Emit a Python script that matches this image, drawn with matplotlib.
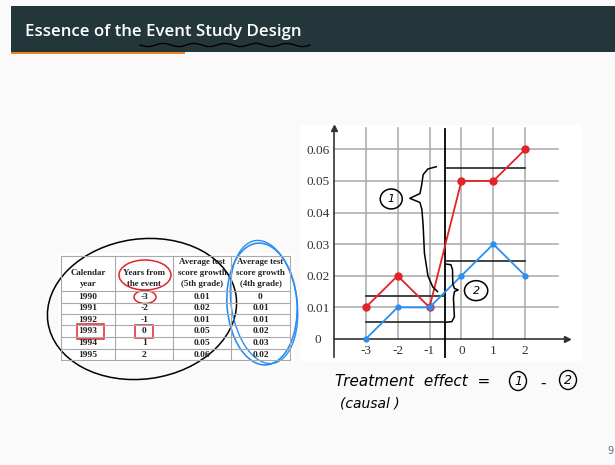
import numpy as np
import matplotlib.pyplot as plt
from matplotlib.patches import Ellipse, Rectangle

# table / chart data
years = [1990, 1991, 1992, 1993, 1994, 1995]
rel_years = [-3, -2, -1, 0, 1, 2]
g5 = [0.01, 0.02, 0.01, 0.05, 0.05, 0.06]   # 5th grade (treated)
g4 = [0.0, 0.01, 0.01, 0.02, 0.03, 0.02]    # 4th grade (control)
headers = [['Calendar', 'year'],
           ['Years from', 'the event'],
           ['Average test', 'score growth', '(5th grade)'],
           ['Average test', 'score growth', '(4th grade)']]
yticks = [0, 0.01, 0.02, 0.03, 0.04, 0.05, 0.06]
ytick_labels = ['0', '0.01', '0.02', '0.03', '0.04', '0.05', '0.06']

# levels of the hand drawn guide lines
event_x = -0.52
pre_hi, pre_lo = 0.0137, 0.0053
post_hi, post_lo = 0.0542, 0.0247

RED = '#e3222a'
BLUE = '#2b8ef2'
SERIF = ['Liberation Serif', 'DejaVu Serif']


def fmt(v):
    return '0' if v == 0 else f'{v:.2f}'


fig = plt.figure(figsize=(6.15, 4.65), dpi=100)
fig.patch.set_facecolor('#fafafa')

# background axes in pixel coordinates
bg = fig.add_axes([0, 0, 1, 1])
bg.set_xlim(0, 615)
bg.set_ylim(465, 0)
bg.axis('off')

# title bar
bg.add_patch(Rectangle((11, 6), 604, 46.5, color='#23373b', lw=0))
bg.plot([11, 185], [52.6, 52.6], color='#eb811b', lw=1.4, solid_capstyle='butt')
bg.text(25, 36.5, 'Essence of the Event Study Design', color='white',
        fontsize=12.2, family='Open Sans', fontweight='semibold', va='baseline')
wx = np.linspace(140, 310, 300)
bg.plot(wx, 45 + 1.6 * np.sin((wx - 140) / 170 * 2 * np.pi * 5.5), color='black', lw=1.0)

# table
cols = [60.7, 115.3, 173.3, 231, 290]
rows = [255.7, 291, 302.7, 314, 325.3, 337, 348.7, 360.3]
bg.add_patch(Rectangle((58, 253), 236, 110, color='white', lw=0))
for c in cols:
    bg.plot([c, c], [rows[0], rows[-1]], color='#a9a9a9', lw=0.8)
for r in rows:
    bg.plot([cols[0], cols[-1]], [r, r], color='#a9a9a9', lw=0.8)
line_y = [262, 273, 284]
for j, h in enumerate(headers):
    xc = (cols[j] + cols[j + 1]) / 2
    for k, txt in enumerate(h):
        bg.text(xc, line_y[3 - len(h) + k], txt, ha='center', va='center',
                family=SERIF, fontsize=6.4, fontweight='bold', color='#222222')
for i in range(len(years)):
    yc = (rows[i + 1] + rows[i + 2]) / 2
    vals = [str(years[i]), str(rel_years[i]), fmt(g5[i]), fmt(g4[i])]
    for j, v in enumerate(vals):
        xc = (cols[j] + cols[j + 1]) / 2
        bg.text(xc, yc, v, ha='center', va='center', family=SERIF,
                fontsize=6.8, fontweight='bold', color='#222222')

# hand drawn marks on the table
bg.add_patch(Ellipse((142, 309), 190, 140, angle=-8, fill=False, ec='black', lw=1.1))
bg.add_patch(Ellipse((262, 304), 70, 122, angle=-4, fill=False, ec=BLUE, lw=1.2))
bg.add_patch(Ellipse((264, 302), 66, 124, angle=-8, fill=False, ec=BLUE, lw=1.0))
bg.add_patch(Ellipse((145, 275), 52, 30, fill=False, ec=RED, lw=1.1))
bg.add_patch(Ellipse((145, 297), 22, 13, fill=False, ec=RED, lw=1.1))
bg.add_patch(Rectangle((77, 324), 27, 15, fill=False, ec=RED, lw=1.1))
bg.add_patch(Rectangle((135, 325), 18, 13, fill=False, ec=RED, lw=1.1))

# chart
ax = fig.add_axes([300 / 615, (465 - 361) / 465, 282 / 615, 236 / 465])
ax.set_facecolor('white')
ax.set_xlim(-5.06, 3.78)
ax.set_ylim(-0.00696, 0.0677)
for s in ['top', 'right']:
    ax.spines[s].set_visible(False)
ax.spines['left'].set_position(('data', -4))
ax.spines['left'].set_bounds(-0.0057, 0.066)
ax.spines['bottom'].set_position(('data', 0))
ax.spines['bottom'].set_bounds(-4, 3.3)
for s in ['left', 'bottom']:
    ax.spines[s].set_color('#333333')
    ax.spines[s].set_linewidth(1.2)
ax.set_xticks(rel_years)
ax.set_xticklabels([str(v) for v in rel_years])
ax.set_yticks(yticks)
ax.set_yticklabels(ytick_labels)
ax.tick_params(axis='both', length=0, labelsize=9.5, labelcolor='#333333')
ax.tick_params(axis='y', pad=11.5)
ax.tick_params(axis='x', pad=4)
for lab in ax.get_yticklabels():
    lab.set_horizontalalignment('center')
for lab in ax.get_xticklabels() + ax.get_yticklabels():
    lab.set_family(SERIF)
ax.plot(-4, 0.0668, marker='^', color='#333333', ms=4, clip_on=False)
ax.plot(3.3, 0, marker='>', color='#333333', ms=4, clip_on=False)

# grid
for x in rel_years:
    ax.plot([x, x], [0, 0.0668], color='#a8a8a8', lw=1.1, zorder=1)
for y in yticks[1:]:
    ax.plot([-4, 3.03], [y, y], color='#a8a8a8', lw=1.1, zorder=1)

# series
ax.plot(rel_years, g5, color=RED, lw=1.3, marker='o', ms=5, zorder=4)
ax.plot(rel_years, g4, color=BLUE, lw=1.3, marker='o', ms=3.5, zorder=4)

# guide lines
ax.plot([event_x, event_x], [-0.0057, 0.0665], color='black', lw=1.3, zorder=3)
ax.plot([event_x, 2], [post_hi, post_hi], color='#222222', lw=1.2, zorder=3)
ax.plot([event_x, 2], [post_lo, post_lo], color='#222222', lw=1.2, zorder=3)
ax.plot([-3, event_x], [pre_hi, pre_hi], color='#222222', lw=1.2, zorder=3)
ax.plot([-3, event_x], [pre_lo, pre_lo], color='#222222', lw=1.2, zorder=3)

# braces
b1 = [(-0.79, 0.0545), (-1.05, 0.0538), (-1.2, 0.052), (-1.25, 0.0485), (-1.3, 0.046),
      (-1.62, 0.0445), (-1.3, 0.0432), (-1.24, 0.041), (-1.2, 0.036), (-1.16, 0.0272),
      (-1.05, 0.020), (-0.9, 0.0165), (-0.75, 0.015)]
b2 = [(-0.48, 0.0237), (-0.33, 0.0235), (-0.28, 0.022), (-0.27, 0.0176), (-0.22, 0.016),
      (-0.1, 0.0155), (-0.22, 0.015), (-0.25, 0.013), (-0.22, 0.007), (-0.3, 0.0055),
      (-0.48, 0.0053)]
for b in [b1, b2]:
    bx, by = zip(*b)
    ax.plot(bx, by, color='black', lw=1.1, zorder=5)
ax.add_patch(Ellipse((-2.2, 0.0443), 0.69, 0.0063, fill=False, ec='black', lw=1.1))
ax.text(-2.2, 0.0443, '1', ha='center', va='center', fontsize=8, style='italic')
ax.add_patch(Ellipse((0.46, 0.0153), 0.73, 0.0063, fill=False, ec='black', lw=1.1))
ax.text(0.46, 0.0153, '2', ha='center', va='center', fontsize=8, style='italic')

# handwritten note
bg.text(335, 386, 'Treatment  effect  =', fontsize=11, style='italic', va='baseline')
bg.add_patch(Ellipse((518, 381), 17, 19, fill=False, ec='black', lw=1.0))
bg.text(518, 381.5, '1', fontsize=9, ha='center', va='center', style='italic')
bg.text(543, 383, '-', fontsize=11, ha='center', va='center')
bg.add_patch(Ellipse((568, 380), 17, 19, fill=False, ec='black', lw=1.0))
bg.text(568, 380.5, '2', fontsize=9, ha='center', va='center', style='italic')
bg.text(340, 407, '(causal )', fontsize=10, style='italic', va='baseline')

bg.text(607, 451, '9', fontsize=7, color='#5f7680', va='center')

fig.savefig('out.png', dpi=100, facecolor=fig.get_facecolor())
